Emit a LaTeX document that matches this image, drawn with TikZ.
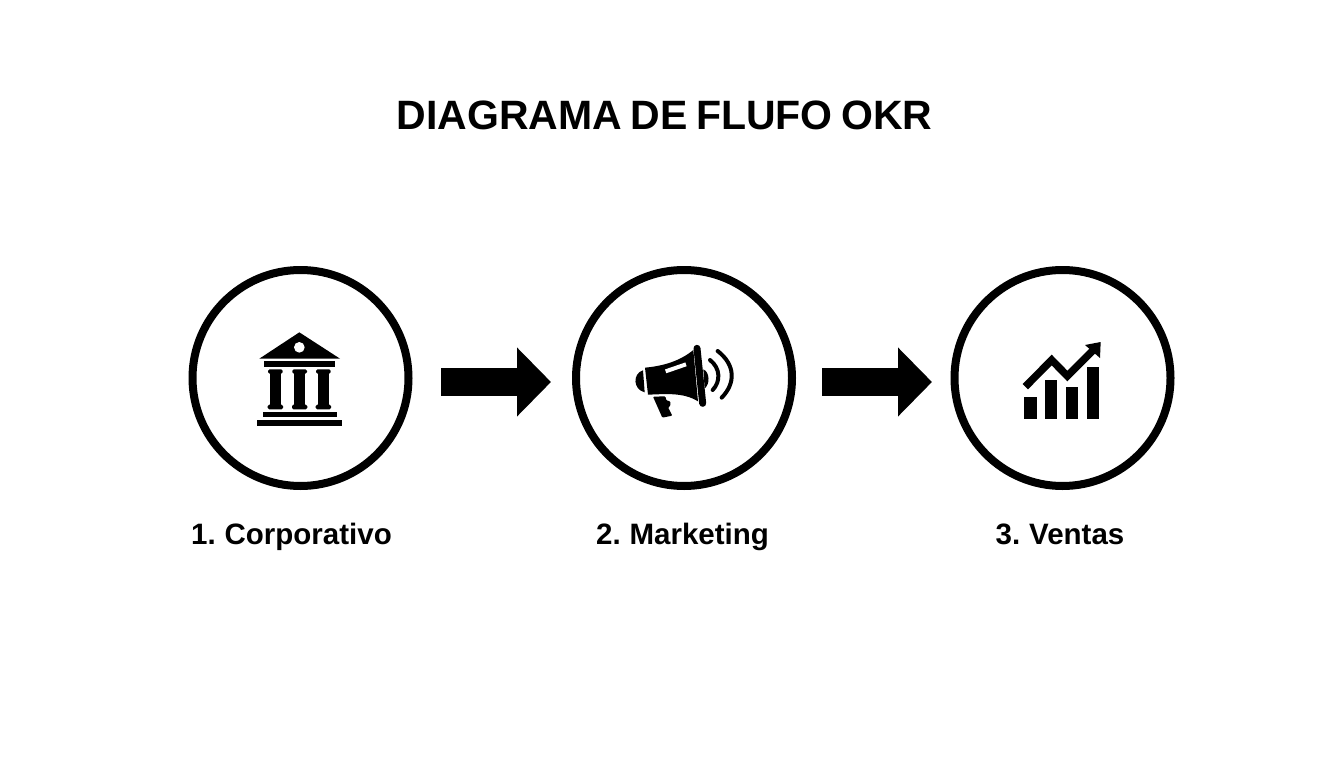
\documentclass[tikz,border=0pt]{standalone}
\usepackage{fontspec}
\setmainfont[WordSpace=0.75]{Liberation Sans}
\usetikzlibrary{arrows.meta}
\tikzset{
  stage/.style={circle,draw=black,line width=8pt,fill=white,minimum size=216pt,inner sep=0pt,outer sep=0pt},
  flow/.style={line width=28pt,-{Triangle[length=34pt,width=67pt]}},
  lbl/.style={font=\fontsize{29.5}{34}\selectfont\bfseries,text=black,inner sep=0pt,anchor=base},
  ttl/.style={font=\fontsize{41}{48}\selectfont\bfseries,text=black,inner sep=0pt,anchor=base},
  icon/.style={shift={(#1)},x=0.33333pt,y=-0.33333pt}
}
\begin{document}
\begin{tikzpicture}[x=1pt,y=-1pt]
\useasboundingbox (0,0) rectangle (1344,768);
\fill[white] (0,0) rectangle (1344,768);
\node[ttl] (title) at (664.5,129) {DIAGRAMA DE FLUFO OKR};
\node[stage] (c1) at (300.5,378) {};
\node[stage] (c2) at (684,378) {};
\node[stage] (c3) at (1062.5,378) {};
\node[lbl] (l1) at (291.5,544.5) {1. Corporativo};
\node[lbl] (l2) at (682.5,544.5) {2. Marketing};
\node[lbl] (l3) at (1060,544.5) {3. Ventas};
\draw[flow,shorten <=32.5pt,shorten >=25pt] ([yshift=-4pt]c1.east) -- ([yshift=-4pt]c2.west);
\draw[flow,shorten <=30pt,shorten >=22.5pt] ([yshift=-4pt]c2.east) -- ([yshift=-4pt]c3.west);
% bank
\begin{scope}[icon={240,320}]
\fill (58,116) -- (178,37) -- (300,116) -- cycle;
\fill[white] (178,82) circle (16);
\fill (72,124) rectangle (285,141);
\foreach \c in {106,179,250}{
  \fill[rounded corners=1.5pt] (\c-22,148) rectangle (\c+22,161);
  \fill (\c-17,158) rectangle (\c+17,257);
  \fill[rounded corners=1.5pt] (\c-23,254) rectangle (\c+23,268);
}
\fill (68,275) rectangle (290,292);
\fill (50,299) rectangle (306,317);
\end{scope}
% megaphone
\begin{scope}[icon={620,330}]
\fill (75,113) .. controls (130,108) and (180,93) .. (220,60) -- (234,214) .. controls (190,187) and (140,192) .. (84,194) -- cycle;
\draw[line width=7pt,line cap=round] (231,55) -- (248,220);
\fill (69,121) .. controls (38,130) and (38,178) .. (74,187) -- cycle;
\fill (250,118) .. controls (270,126) and (270,164) .. (254,175) -- cycle;
\draw[white,line width=4pt] (137,124) -- (198,103);
\fill[rounded corners=1pt] (99,200) -- (136,199) -- (139,211) -- (151,214) -- (151,228) -- (144,232) -- (157,257) -- (127,263) -- cycle;
\draw[line width=4pt,line cap=round] (270,90) .. controls (302,115) and (302,155) .. (278,180);
\draw[line width=4pt,line cap=round] (293,63) .. controls (347,105) and (347,160) .. (305,203);
\end{scope}
% chart
\begin{scope}[icon={1010,330}]
\fill (42,200) rectangle (80,266);
\fill (104,150) rectangle (142,266);
\fill (167,172) rectangle (205,266);
\fill (230,110) rectangle (268,266);
\draw[line width=7.5pt,miter limit=10] (46,170) -- (125,90) -- (172,138) -- (252,58);
\fill (225,45) -- (272,36) -- (270,84) -- cycle;
\end{scope}
\end{tikzpicture}
\end{document}
